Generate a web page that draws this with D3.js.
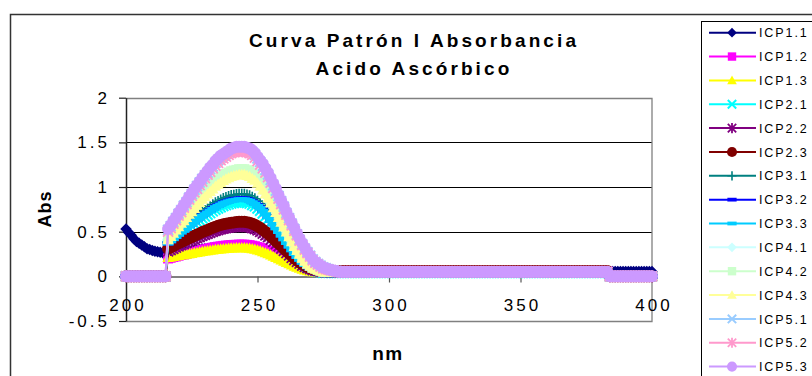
<!DOCTYPE html>
<html>
<head>
<meta charset="utf-8">
<script src="https://cdn.jsdelivr.net/npm/d3@7"></script>
<style>
  body { margin: 0; background: #fff; }
  svg { display: block; }
  text { font-family: "Liberation Sans", Arial, sans-serif; fill: #000; }
</style>
</head>
<body>
<svg id="chart" width="812" height="376"></svg>
<script>
// Scan grid: 200–400 nm in 1 nm steps
const wavelengths = d3.range(200, 401);

const yTickValues = [-0.5, 0, 0.5, 1, 1.5, 2];
const xTickValues = [200, 250, 300, 350, 400];

// Absorbance readings per standard (200–215 | 216–244 | 245–275 | 276–383 | 384–400)
const icp11 = [
  0.53,0.49,0.46,0.42,0.39,0.37,0.35,0.33,0.31,0.30,0.29,0.28,0.275,0.27,0.265,0.26,
  0.25,0.255,0.259,0.264,0.268,0.273,0.276,0.281,0.285,0.289,0.293,0.298,0.301,0.306,0.309,0.313,0.317,0.32,0.324,0.327,0.329,0.332,0.334,0.336,0.337,0.338,0.339,0.34,0.34,
  0.34,0.337,0.334,0.329,0.323,0.314,0.306,0.294,0.283,0.272,0.257,0.243,0.229,0.215,0.20,0.186,0.172,0.158,0.143,0.129,0.118,0.106,0.095,0.086,0.078,0.072,0.066,0.064,0.061,0.058,0.055,
  0.055,0.055,0.055,0.055,0.055,0.055,0.055,0.055,0.055,0.055,0.055,0.055,
  0.055,0.055,0.055,0.055,0.055,0.055,0.055,0.055,0.055,0.055,0.055,0.055,
  0.055,0.055,0.055,0.055,0.055,0.055,0.055,0.055,0.055,0.055,0.055,0.055,
  0.055,0.055,0.055,0.055,0.055,0.055,0.055,0.055,0.055,0.055,0.055,0.055,
  0.055,0.055,0.055,0.055,0.055,0.055,0.055,0.055,0.055,0.055,0.055,0.055,
  0.055,0.055,0.055,0.055,0.055,0.055,0.055,0.055,0.055,0.055,0.055,0.055,
  0.055,0.055,0.055,0.055,0.055,0.055,0.055,0.055,0.055,0.055,0.055,0.055,
  0.055,0.055,0.055,0.055,0.055,0.055,0.055,0.055,0.055,0.055,0.055,0.055,
  0.055,0.055,0.055,0.055,0.055,0.055,0.055,0.055,0.055,0.055,0.055,0.055,
  0.055,0.055,0.055,0.055,0.055,0.055,0.055,0.055,0.055,0.055,0.055,0.055,0.055,0.055,0.055,0.055,0.055
];
const icp12 = [
  0,0,0,0,0,0,0,0,0,0,0,0,0,0,0,0,
  0.20,0.208,0.216,0.223,0.231,0.239,0.245,0.253,0.26,0.267,0.274,0.282,0.288,0.296,0.302,0.309,0.315,0.321,0.327,0.332,0.336,0.341,0.344,0.347,0.35,0.352,0.353,0.355,0.355,
  0.355,0.352,0.349,0.343,0.337,0.328,0.32,0.308,0.296,0.284,0.269,0.255,0.24,0.225,0.21,0.196,0.181,0.166,0.151,0.137,0.125,0.113,0.101,0.092,0.084,0.078,0.072,0.069,0.066,0.063,0.06,
  0.06,0.06,0.06,0.06,0.06,0.06,0.06,0.06,0.06,0.06,0.06,0.06,
  0.06,0.06,0.06,0.06,0.06,0.06,0.06,0.06,0.06,0.06,0.06,0.06,
  0.06,0.06,0.06,0.06,0.06,0.06,0.06,0.06,0.06,0.06,0.06,0.06,
  0.06,0.06,0.06,0.06,0.06,0.06,0.06,0.06,0.06,0.06,0.06,0.06,
  0.06,0.06,0.06,0.06,0.06,0.06,0.06,0.06,0.06,0.06,0.06,0.06,
  0.06,0.06,0.06,0.06,0.06,0.06,0.06,0.06,0.06,0.06,0.06,0.06,
  0.06,0.06,0.06,0.06,0.06,0.06,0.06,0.06,0.06,0.06,0.06,0.06,
  0.06,0.06,0.06,0.06,0.06,0.06,0.06,0.06,0.06,0.06,0.06,0.06,
  0.06,0.06,0.06,0.06,0.06,0.06,0.06,0.06,0.06,0.06,0.06,0.06,
  0,0,0,0,0,0,0,0,0,0,0,0,0,0,0,0,0
];
const icp13 = [
  0,0,0,0,0,0,0,0,0,0,0,0,0,0,0,0,
  0.21,0.216,0.221,0.227,0.232,0.238,0.242,0.247,0.253,0.257,0.263,0.268,0.273,0.278,0.283,0.287,0.291,0.296,0.30,0.304,0.307,0.31,0.312,0.315,0.317,0.318,0.319,0.32,0.32,
  0.32,0.317,0.314,0.309,0.303,0.295,0.286,0.275,0.264,0.253,0.239,0.225,0.211,0.197,0.183,0.169,0.155,0.141,0.127,0.113,0.102,0.09,0.079,0.071,0.062,0.057,0.051,0.048,0.046,0.043,0.04,
  0.04,0.04,0.04,0.04,0.04,0.04,0.04,0.04,0.04,0.04,0.04,0.04,
  0.04,0.04,0.04,0.04,0.04,0.04,0.04,0.04,0.04,0.04,0.04,0.04,
  0.04,0.04,0.04,0.04,0.04,0.04,0.04,0.04,0.04,0.04,0.04,0.04,
  0.04,0.04,0.04,0.04,0.04,0.04,0.04,0.04,0.04,0.04,0.04,0.04,
  0.04,0.04,0.04,0.04,0.04,0.04,0.04,0.04,0.04,0.04,0.04,0.04,
  0.04,0.04,0.04,0.04,0.04,0.04,0.04,0.04,0.04,0.04,0.04,0.04,
  0.04,0.04,0.04,0.04,0.04,0.04,0.04,0.04,0.04,0.04,0.04,0.04,
  0.04,0.04,0.04,0.04,0.04,0.04,0.04,0.04,0.04,0.04,0.04,0.04,
  0.04,0.04,0.04,0.04,0.04,0.04,0.04,0.04,0.04,0.04,0.04,0.04,
  0,0,0,0,0,0,0,0,0,0,0,0,0,0,0,0,0
];
const icp21 = [
  0,0,0,0,0,0,0,0,0,0,0,0,0,0,0,0,
  0.36,0.384,0.407,0.431,0.454,0.478,0.496,0.52,0.543,0.562,0.586,0.609,0.628,0.651,0.67,0.689,0.708,0.727,0.745,0.76,0.774,0.788,0.797,0.807,0.816,0.821,0.825,0.83,0.83,
  0.83,0.822,0.814,0.798,0.783,0.759,0.735,0.704,0.672,0.64,0.601,0.561,0.522,0.482,0.443,0.403,0.364,0.324,0.285,0.245,0.214,0.182,0.151,0.127,0.103,0.087,0.072,0.064,0.056,0.048,0.04,
  0.04,0.04,0.04,0.04,0.04,0.04,0.04,0.04,0.04,0.04,0.04,0.04,
  0.04,0.04,0.04,0.04,0.04,0.04,0.04,0.04,0.04,0.04,0.04,0.04,
  0.04,0.04,0.04,0.04,0.04,0.04,0.04,0.04,0.04,0.04,0.04,0.04,
  0.04,0.04,0.04,0.04,0.04,0.04,0.04,0.04,0.04,0.04,0.04,0.04,
  0.04,0.04,0.04,0.04,0.04,0.04,0.04,0.04,0.04,0.04,0.04,0.04,
  0.04,0.04,0.04,0.04,0.04,0.04,0.04,0.04,0.04,0.04,0.04,0.04,
  0.04,0.04,0.04,0.04,0.04,0.04,0.04,0.04,0.04,0.04,0.04,0.04,
  0.04,0.04,0.04,0.04,0.04,0.04,0.04,0.04,0.04,0.04,0.04,0.04,
  0.04,0.04,0.04,0.04,0.04,0.04,0.04,0.04,0.04,0.04,0.04,0.04,
  0,0,0,0,0,0,0,0,0,0,0,0,0,0,0,0,0
];
const icp22 = [
  0,0,0,0,0,0,0,0,0,0,0,0,0,0,0,0,
  0.28,0.294,0.308,0.322,0.336,0.35,0.361,0.375,0.389,0.40,0.414,0.428,0.44,0.454,0.465,0.476,0.487,0.498,0.51,0.518,0.526,0.535,0.54,0.546,0.552,0.554,0.557,0.56,0.56,
  0.56,0.555,0.55,0.54,0.529,0.514,0.499,0.478,0.458,0.438,0.412,0.387,0.361,0.336,0.31,0.285,0.259,0.234,0.208,0.183,0.162,0.142,0.121,0.106,0.091,0.081,0.07,0.065,0.06,0.055,0.05,
  0.05,0.05,0.05,0.05,0.05,0.05,0.05,0.05,0.05,0.05,0.05,0.05,
  0.05,0.05,0.05,0.05,0.05,0.05,0.05,0.05,0.05,0.05,0.05,0.05,
  0.05,0.05,0.05,0.05,0.05,0.05,0.05,0.05,0.05,0.05,0.05,0.05,
  0.05,0.05,0.05,0.05,0.05,0.05,0.05,0.05,0.05,0.05,0.05,0.05,
  0.05,0.05,0.05,0.05,0.05,0.05,0.05,0.05,0.05,0.05,0.05,0.05,
  0.05,0.05,0.05,0.05,0.05,0.05,0.05,0.05,0.05,0.05,0.05,0.05,
  0.05,0.05,0.05,0.05,0.05,0.05,0.05,0.05,0.05,0.05,0.05,0.05,
  0.05,0.05,0.05,0.05,0.05,0.05,0.05,0.05,0.05,0.05,0.05,0.05,
  0.05,0.05,0.05,0.05,0.05,0.05,0.05,0.05,0.05,0.05,0.05,0.05,
  0,0,0,0,0,0,0,0,0,0,0,0,0,0,0,0,0
];
const icp23 = [
  0,0,0,0,0,0,0,0,0,0,0,0,0,0,0,0,
  0.31,0.325,0.34,0.355,0.37,0.385,0.397,0.412,0.427,0.439,0.454,0.469,0.481,0.496,0.508,0.52,0.532,0.544,0.556,0.565,0.574,0.583,0.589,0.595,0.601,0.604,0.607,0.61,0.61,
  0.61,0.605,0.599,0.588,0.577,0.561,0.544,0.522,0.50,0.478,0.451,0.423,0.396,0.368,0.341,0.313,0.286,0.258,0.231,0.203,0.181,0.159,0.137,0.121,0.104,0.093,0.082,0.077,0.071,0.066,0.06,
  0.06,0.06,0.06,0.06,0.06,0.06,0.06,0.06,0.06,0.06,0.06,0.06,
  0.06,0.06,0.06,0.06,0.06,0.06,0.06,0.06,0.06,0.06,0.06,0.06,
  0.06,0.06,0.06,0.06,0.06,0.06,0.06,0.06,0.06,0.06,0.06,0.06,
  0.06,0.06,0.06,0.06,0.06,0.06,0.06,0.06,0.06,0.06,0.06,0.06,
  0.06,0.06,0.06,0.06,0.06,0.06,0.06,0.06,0.06,0.06,0.06,0.06,
  0.06,0.06,0.06,0.06,0.06,0.06,0.06,0.06,0.06,0.06,0.06,0.06,
  0.06,0.06,0.06,0.06,0.06,0.06,0.06,0.06,0.06,0.06,0.06,0.06,
  0.06,0.06,0.06,0.06,0.06,0.06,0.06,0.06,0.06,0.06,0.06,0.06,
  0.06,0.06,0.06,0.06,0.06,0.06,0.06,0.06,0.06,0.06,0.06,0.06,
  0,0,0,0,0,0,0,0,0,0,0,0,0,0,0,0,0
];
const icp31 = [
  0,0,0,0,0,0,0,0,0,0,0,0,0,0,0,0,
  0.38,0.407,0.434,0.461,0.488,0.515,0.537,0.564,0.591,0.612,0.639,0.666,0.688,0.715,0.736,0.758,0.78,0.801,0.823,0.839,0.855,0.871,0.882,0.893,0.904,0.909,0.915,0.92,0.92,
  0.92,0.911,0.903,0.885,0.868,0.842,0.816,0.781,0.746,0.711,0.668,0.624,0.581,0.537,0.494,0.45,0.407,0.363,0.32,0.276,0.241,0.207,0.172,0.146,0.12,0.102,0.085,0.076,0.067,0.059,0.05,
  0.05,0.05,0.05,0.05,0.05,0.05,0.05,0.05,0.05,0.05,0.05,0.05,
  0.05,0.05,0.05,0.05,0.05,0.05,0.05,0.05,0.05,0.05,0.05,0.05,
  0.05,0.05,0.05,0.05,0.05,0.05,0.05,0.05,0.05,0.05,0.05,0.05,
  0.05,0.05,0.05,0.05,0.05,0.05,0.05,0.05,0.05,0.05,0.05,0.05,
  0.05,0.05,0.05,0.05,0.05,0.05,0.05,0.05,0.05,0.05,0.05,0.05,
  0.05,0.05,0.05,0.05,0.05,0.05,0.05,0.05,0.05,0.05,0.05,0.05,
  0.05,0.05,0.05,0.05,0.05,0.05,0.05,0.05,0.05,0.05,0.05,0.05,
  0.05,0.05,0.05,0.05,0.05,0.05,0.05,0.05,0.05,0.05,0.05,0.05,
  0.05,0.05,0.05,0.05,0.05,0.05,0.05,0.05,0.05,0.05,0.05,0.05,
  0,0,0,0,0,0,0,0,0,0,0,0,0,0,0,0,0
];
const icp32 = [
  0,0,0,0,0,0,0,0,0,0,0,0,0,0,0,0,
  0.37,0.395,0.42,0.445,0.47,0.495,0.515,0.54,0.565,0.585,0.61,0.635,0.655,0.68,0.70,0.72,0.74,0.76,0.78,0.795,0.81,0.825,0.835,0.845,0.855,0.86,0.865,0.87,0.87,
  0.87,0.862,0.853,0.837,0.82,0.795,0.77,0.737,0.704,0.671,0.629,0.588,0.546,0.505,0.463,0.422,0.38,0.339,0.297,0.256,0.223,0.189,0.156,0.131,0.106,0.09,0.073,0.065,0.057,0.048,0.04,
  0.04,0.04,0.04,0.04,0.04,0.04,0.04,0.04,0.04,0.04,0.04,0.04,
  0.04,0.04,0.04,0.04,0.04,0.04,0.04,0.04,0.04,0.04,0.04,0.04,
  0.04,0.04,0.04,0.04,0.04,0.04,0.04,0.04,0.04,0.04,0.04,0.04,
  0.04,0.04,0.04,0.04,0.04,0.04,0.04,0.04,0.04,0.04,0.04,0.04,
  0.04,0.04,0.04,0.04,0.04,0.04,0.04,0.04,0.04,0.04,0.04,0.04,
  0.04,0.04,0.04,0.04,0.04,0.04,0.04,0.04,0.04,0.04,0.04,0.04,
  0.04,0.04,0.04,0.04,0.04,0.04,0.04,0.04,0.04,0.04,0.04,0.04,
  0.04,0.04,0.04,0.04,0.04,0.04,0.04,0.04,0.04,0.04,0.04,0.04,
  0.04,0.04,0.04,0.04,0.04,0.04,0.04,0.04,0.04,0.04,0.04,0.04,
  0,0,0,0,0,0,0,0,0,0,0,0,0,0,0,0,0
];
const icp33 = [
  0,0,0,0,0,0,0,0,0,0,0,0,0,0,0,0,
  0.37,0.395,0.419,0.444,0.468,0.493,0.512,0.537,0.561,0.581,0.605,0.63,0.649,0.674,0.693,0.713,0.733,0.752,0.772,0.787,0.801,0.816,0.826,0.836,0.845,0.85,0.855,0.86,0.86,
  0.86,0.852,0.844,0.827,0.811,0.786,0.762,0.729,0.696,0.663,0.622,0.581,0.54,0.499,0.458,0.417,0.376,0.335,0.294,0.253,0.22,0.188,0.155,0.13,0.106,0.089,0.073,0.065,0.056,0.048,0.04,
  0.04,0.04,0.04,0.04,0.04,0.04,0.04,0.04,0.04,0.04,0.04,0.04,
  0.04,0.04,0.04,0.04,0.04,0.04,0.04,0.04,0.04,0.04,0.04,0.04,
  0.04,0.04,0.04,0.04,0.04,0.04,0.04,0.04,0.04,0.04,0.04,0.04,
  0.04,0.04,0.04,0.04,0.04,0.04,0.04,0.04,0.04,0.04,0.04,0.04,
  0.04,0.04,0.04,0.04,0.04,0.04,0.04,0.04,0.04,0.04,0.04,0.04,
  0.04,0.04,0.04,0.04,0.04,0.04,0.04,0.04,0.04,0.04,0.04,0.04,
  0.04,0.04,0.04,0.04,0.04,0.04,0.04,0.04,0.04,0.04,0.04,0.04,
  0.04,0.04,0.04,0.04,0.04,0.04,0.04,0.04,0.04,0.04,0.04,0.04,
  0.04,0.04,0.04,0.04,0.04,0.04,0.04,0.04,0.04,0.04,0.04,0.04,
  0,0,0,0,0,0,0,0,0,0,0,0,0,0,0,0,0
];
const icp41 = [
  0,0,0,0,0,0,0,0,0,0,0,0,0,0,0,0,
  0.42,0.458,0.495,0.533,0.57,0.608,0.638,0.675,0.713,0.743,0.78,0.818,0.848,0.885,0.915,0.945,0.975,1.005,1.035,1.058,1.08,1.103,1.118,1.133,1.148,1.155,1.163,1.17,1.17,
  1.17,1.159,1.148,1.125,1.103,1.069,1.036,0.991,0.946,0.901,0.845,0.789,0.733,0.677,0.621,0.565,0.509,0.453,0.397,0.341,0.296,0.252,0.207,0.173,0.14,0.117,0.095,0.084,0.072,0.061,0.05,
  0.05,0.05,0.05,0.05,0.05,0.05,0.05,0.05,0.05,0.05,0.05,0.05,
  0.05,0.05,0.05,0.05,0.05,0.05,0.05,0.05,0.05,0.05,0.05,0.05,
  0.05,0.05,0.05,0.05,0.05,0.05,0.05,0.05,0.05,0.05,0.05,0.05,
  0.05,0.05,0.05,0.05,0.05,0.05,0.05,0.05,0.05,0.05,0.05,0.05,
  0.05,0.05,0.05,0.05,0.05,0.05,0.05,0.05,0.05,0.05,0.05,0.05,
  0.05,0.05,0.05,0.05,0.05,0.05,0.05,0.05,0.05,0.05,0.05,0.05,
  0.05,0.05,0.05,0.05,0.05,0.05,0.05,0.05,0.05,0.05,0.05,0.05,
  0.05,0.05,0.05,0.05,0.05,0.05,0.05,0.05,0.05,0.05,0.05,0.05,
  0.05,0.05,0.05,0.05,0.05,0.05,0.05,0.05,0.05,0.05,0.05,0.05,
  0,0,0,0,0,0,0,0,0,0,0,0,0,0,0,0,0
];
const icp42 = [
  0,0,0,0,0,0,0,0,0,0,0,0,0,0,0,0,
  0.43,0.469,0.507,0.546,0.584,0.623,0.653,0.692,0.73,0.761,0.80,0.838,0.869,0.907,0.938,0.969,1.0,1.031,1.061,1.085,1.108,1.131,1.146,1.162,1.177,1.185,1.192,1.20,1.20,
  1.20,1.189,1.177,1.154,1.131,1.097,1.062,1.016,0.97,0.924,0.867,0.809,0.752,0.694,0.637,0.579,0.522,0.464,0.407,0.349,0.303,0.257,0.211,0.177,0.142,0.119,0.096,0.085,0.073,0.062,0.05,
  0.05,0.05,0.05,0.05,0.05,0.05,0.05,0.05,0.05,0.05,0.05,0.05,
  0.05,0.05,0.05,0.05,0.05,0.05,0.05,0.05,0.05,0.05,0.05,0.05,
  0.05,0.05,0.05,0.05,0.05,0.05,0.05,0.05,0.05,0.05,0.05,0.05,
  0.05,0.05,0.05,0.05,0.05,0.05,0.05,0.05,0.05,0.05,0.05,0.05,
  0.05,0.05,0.05,0.05,0.05,0.05,0.05,0.05,0.05,0.05,0.05,0.05,
  0.05,0.05,0.05,0.05,0.05,0.05,0.05,0.05,0.05,0.05,0.05,0.05,
  0.05,0.05,0.05,0.05,0.05,0.05,0.05,0.05,0.05,0.05,0.05,0.05,
  0.05,0.05,0.05,0.05,0.05,0.05,0.05,0.05,0.05,0.05,0.05,0.05,
  0.05,0.05,0.05,0.05,0.05,0.05,0.05,0.05,0.05,0.05,0.05,0.05,
  0,0,0,0,0,0,0,0,0,0,0,0,0,0,0,0,0
];
const icp43 = [
  0,0,0,0,0,0,0,0,0,0,0,0,0,0,0,0,
  0.41,0.447,0.483,0.52,0.556,0.593,0.622,0.658,0.695,0.724,0.76,0.797,0.826,0.863,0.892,0.921,0.95,0.979,1.009,1.031,1.052,1.074,1.089,1.104,1.118,1.125,1.133,1.14,1.14,
  1.14,1.129,1.118,1.096,1.075,1.042,1.009,0.966,0.922,0.878,0.824,0.769,0.715,0.66,0.606,0.551,0.497,0.442,0.388,0.333,0.29,0.246,0.203,0.17,0.137,0.115,0.094,0.083,0.072,0.061,0.05,
  0.05,0.05,0.05,0.05,0.05,0.05,0.05,0.05,0.05,0.05,0.05,0.05,
  0.05,0.05,0.05,0.05,0.05,0.05,0.05,0.05,0.05,0.05,0.05,0.05,
  0.05,0.05,0.05,0.05,0.05,0.05,0.05,0.05,0.05,0.05,0.05,0.05,
  0.05,0.05,0.05,0.05,0.05,0.05,0.05,0.05,0.05,0.05,0.05,0.05,
  0.05,0.05,0.05,0.05,0.05,0.05,0.05,0.05,0.05,0.05,0.05,0.05,
  0.05,0.05,0.05,0.05,0.05,0.05,0.05,0.05,0.05,0.05,0.05,0.05,
  0.05,0.05,0.05,0.05,0.05,0.05,0.05,0.05,0.05,0.05,0.05,0.05,
  0.05,0.05,0.05,0.05,0.05,0.05,0.05,0.05,0.05,0.05,0.05,0.05,
  0.05,0.05,0.05,0.05,0.05,0.05,0.05,0.05,0.05,0.05,0.05,0.05,
  0,0,0,0,0,0,0,0,0,0,0,0,0,0,0,0,0
];
const icp51 = [
  0,0,0,0,0,0,0,0,0,0,0,0,0,0,0,0,
  0.52,0.56,0.61,0.65,0.70,0.74,0.79,0.83,0.88,0.92,0.97,1.01,1.05,1.09,1.13,1.16,1.20,1.23,1.27,1.30,1.33,1.35,1.37,1.39,1.41,1.42,1.43,1.43,1.43,
  1.43,1.42,1.41,1.39,1.36,1.32,1.28,1.24,1.19,1.14,1.08,1.02,0.96,0.90,0.84,0.78,0.71,0.65,0.59,0.53,0.47,0.41,0.36,0.31,0.27,0.23,0.19,0.16,0.14,0.12,0.10,
  0.09,0.08,0.07,0.065,0.06,0.05,0.05,0.05,0.05,0.05,0.05,0.05,
  0.05,0.05,0.05,0.05,0.05,0.05,0.05,0.05,0.05,0.05,0.05,0.05,
  0.05,0.05,0.05,0.05,0.05,0.05,0.05,0.05,0.05,0.05,0.05,0.05,
  0.05,0.05,0.05,0.05,0.05,0.05,0.05,0.05,0.05,0.05,0.05,0.05,
  0.05,0.05,0.05,0.05,0.05,0.05,0.05,0.05,0.05,0.05,0.05,0.05,
  0.05,0.05,0.05,0.05,0.05,0.05,0.05,0.05,0.05,0.05,0.05,0.05,
  0.05,0.05,0.05,0.05,0.05,0.05,0.05,0.05,0.05,0.05,0.05,0.05,
  0.05,0.05,0.05,0.05,0.05,0.05,0.05,0.05,0.05,0.05,0.05,0.05,
  0.05,0.05,0.05,0.05,0.05,0.05,0.05,0.05,0.05,0.05,0.05,0.05,
  0,0,0,0,0,0,0,0,0,0,0,0,0,0,0,0,0
];
const icp52 = [
  0,0,0,0,0,0,0,0,0,0,0,0,0,0,0,0,
  0.50,0.54,0.59,0.63,0.68,0.72,0.77,0.81,0.86,0.90,0.94,0.98,1.02,1.06,1.10,1.14,1.17,1.21,1.24,1.27,1.30,1.32,1.34,1.36,1.38,1.39,1.40,1.40,1.40,
  1.40,1.39,1.38,1.36,1.33,1.29,1.25,1.21,1.16,1.11,1.05,0.99,0.93,0.87,0.81,0.75,0.69,0.63,0.57,0.51,0.46,0.40,0.35,0.30,0.26,0.22,0.18,0.15,0.13,0.11,0.09,
  0.08,0.075,0.07,0.06,0.055,0.05,0.05,0.05,0.05,0.05,0.05,0.05,
  0.05,0.05,0.05,0.05,0.05,0.05,0.05,0.05,0.05,0.05,0.05,0.05,
  0.05,0.05,0.05,0.05,0.05,0.05,0.05,0.05,0.05,0.05,0.05,0.05,
  0.05,0.05,0.05,0.05,0.05,0.05,0.05,0.05,0.05,0.05,0.05,0.05,
  0.05,0.05,0.05,0.05,0.05,0.05,0.05,0.05,0.05,0.05,0.05,0.05,
  0.05,0.05,0.05,0.05,0.05,0.05,0.05,0.05,0.05,0.05,0.05,0.05,
  0.05,0.05,0.05,0.05,0.05,0.05,0.05,0.05,0.05,0.05,0.05,0.05,
  0.05,0.05,0.05,0.05,0.05,0.05,0.05,0.05,0.05,0.05,0.05,0.05,
  0.05,0.05,0.05,0.05,0.05,0.05,0.05,0.05,0.05,0.05,0.05,0.05,
  0,0,0,0,0,0,0,0,0,0,0,0,0,0,0,0,0
];
const icp53 = [
  0,0,0,0,0,0,0,0,0,0,0,0,0,0,0,0,
  0.53,0.57,0.62,0.66,0.71,0.75,0.80,0.84,0.89,0.93,0.98,1.02,1.06,1.10,1.14,1.18,1.22,1.25,1.29,1.32,1.35,1.37,1.39,1.41,1.43,1.44,1.45,1.45,1.45,
  1.45,1.44,1.43,1.41,1.38,1.34,1.30,1.26,1.21,1.16,1.10,1.04,0.98,0.91,0.85,0.79,0.72,0.66,0.60,0.54,0.48,0.42,0.37,0.32,0.27,0.23,0.19,0.16,0.14,0.12,0.10,
  0.09,0.08,0.07,0.065,0.06,0.05,0.05,0.05,0.05,0.05,0.05,0.05,
  0.05,0.05,0.05,0.05,0.05,0.05,0.05,0.05,0.05,0.05,0.05,0.05,
  0.05,0.05,0.05,0.05,0.05,0.05,0.05,0.05,0.05,0.05,0.05,0.05,
  0.05,0.05,0.05,0.05,0.05,0.05,0.05,0.05,0.05,0.05,0.05,0.05,
  0.05,0.05,0.05,0.05,0.05,0.05,0.05,0.05,0.05,0.05,0.05,0.05,
  0.05,0.05,0.05,0.05,0.05,0.05,0.05,0.05,0.05,0.05,0.05,0.05,
  0.05,0.05,0.05,0.05,0.05,0.05,0.05,0.05,0.05,0.05,0.05,0.05,
  0.05,0.05,0.05,0.05,0.05,0.05,0.05,0.05,0.05,0.05,0.05,0.05,
  0.05,0.05,0.05,0.05,0.05,0.05,0.05,0.05,0.05,0.05,0.05,0.05,
  0,0,0,0,0,0,0,0,0,0,0,0,0,0,0,0,0
];

const seriesNames = ["ICP1.1","ICP1.2","ICP1.3","ICP2.1","ICP2.2","ICP2.3","ICP3.1","ICP3.2","ICP3.3",
                     "ICP4.1","ICP4.2","ICP4.3","ICP5.1","ICP5.2","ICP5.3"];
const seriesValues = [icp11, icp12, icp13, icp21, icp22, icp23, icp31, icp32, icp33,
                      icp41, icp42, icp43, icp51, icp52, icp53];

// Line colour and marker style for each standard
const seriesStyle = [
  { color: "#000080", marker: "diamond" },
  { color: "#FF00FF", marker: "square" },
  { color: "#FFFF00", marker: "triangle" },
  { color: "#00FFFF", marker: "times" },
  { color: "#800080", marker: "star" },
  { color: "#800000", marker: "circle" },
  { color: "#008080", marker: "plus" },
  { color: "#0000FF", marker: "dash" },
  { color: "#00CCFF", marker: "dash" },
  { color: "#CCFFFF", marker: "diamond" },
  { color: "#CCFFCC", marker: "square" },
  { color: "#FFFF99", marker: "triangle" },
  { color: "#99CCFF", marker: "times" },
  { color: "#FF99CC", marker: "star" },
  { color: "#CC99FF", marker: "circle" }
];

// Marker outlines (unit size), centred on the data point
const markers = {
  diamond:  { filled: true,  d: "M0,-1.15L1.15,0L0,1.15L-1.15,0Z" },
  square:   { filled: true,  d: "M-1,-1H1V1H-1Z" },
  triangle: { filled: true,  d: "M0,-1.15L1.15,0.9L-1.15,0.9Z" },
  circle:   { filled: true,  d: "M1.2,0A1.2,1.2 0 1,1 -1.2,0A1.2,1.2 0 1,1 1.2,0Z" },
  dash:     { filled: true,  d: "M-1.1,-0.45H1.1V0.45H-1.1Z" },
  times:    { filled: false, d: "M-1,-1L1,1M1,-1L-1,1", width: 2 },
  star:     { filled: false, d: "M-1,-1L1,1M1,-1L-1,1M0,-1.2V1.2", width: 1.8 },
  plus:     { filled: false, d: "M-1.1,0H1.1M0,-1.1V1.1", width: 1.6 }
};
const plotMarkerScale = 5;
const legendMarkerScale = 4.2;

function drawMarker(sel, style, s) {
  const m = markers[style.marker];
  sel.attr("d", m.d)
    .attr("fill", m.filled ? style.color : "none")
    .attr("stroke", m.filled ? "none" : style.color)
    .attr("stroke-width", m.filled ? null : m.width / s)
    .attr("vector-effect", null);
}

const svg = d3.select("#chart");
const x = d3.scaleLinear().domain([200, 400]).range([126, 652]);
const y = d3.scaleLinear().domain([-0.5, 2]).range([321, 97.7]);

// Chart frame
svg.append("rect")
  .attr("x", 10.5).attr("y", 14.5).attr("width", 900).attr("height", 500)
  .attr("fill", "#fff").attr("stroke", "#333").attr("stroke-width", 1.5);

// Horizontal gridlines
svg.append("g").selectAll("line")
  .data([0.5, 1, 1.5])
  .join("line")
  .attr("x1", x(200)).attr("x2", x(400))
  .attr("y1", d => Math.round(y(d)) + 0.5).attr("y2", d => Math.round(y(d)) + 0.5)
  .attr("stroke", "#000").attr("stroke-width", 1);

// Plot area border (top, right, bottom)
svg.append("path")
  .attr("d", `M${x(200)},${Math.round(y(2)) + 0.5}H${x(400)}V${Math.round(y(-0.5)) + 0.5}H${x(200)}`)
  .attr("fill", "none").attr("stroke", "#808080").attr("stroke-width", 1.3);

// Y axis
const yAxis = svg.append("g")
  .attr("transform", `translate(${x(200)},0)`)
  .call(d3.axisLeft(y).tickValues(yTickValues).tickSize(7).tickSizeOuter(0).tickPadding(9).tickFormat(d => String(d)));
yAxis.select(".domain").attr("stroke", "#222").attr("stroke-width", 1.5);
yAxis.selectAll(".tick line").attr("stroke", "#222").attr("stroke-width", 1.2);
yAxis.selectAll(".tick text")
  .attr("font-size", 17).attr("letter-spacing", 3).attr("fill", "#000")
  .style("font-family", "'Liberation Sans', Arial, sans-serif");

// X axis along zero absorbance
const xAxis = svg.append("g")
  .attr("transform", `translate(0,${Math.round(y(0)) + 0.5})`)
  .call(d3.axisBottom(x).tickValues(xTickValues).tickSize(6).tickSizeOuter(0).tickPadding(16).tickFormat(d => String(d)));
xAxis.select(".domain").attr("stroke", "#000").attr("stroke-width", 1);
xAxis.selectAll(".tick line").attr("stroke", "#555").attr("stroke-width", 1.2);
xAxis.selectAll(".tick text")
  .attr("font-size", 17).attr("letter-spacing", 3).attr("dx", 1.5).attr("fill", "#000")
  .style("font-family", "'Liberation Sans', Arial, sans-serif");

// Titles
svg.append("text").attr("x", 414).attr("y", 47).attr("text-anchor", "middle")
  .attr("font-size", 19).attr("font-weight", "bold").attr("letter-spacing", 3.1)
  .text("Curva Patrón I Absorbancia");
svg.append("text").attr("x", 414).attr("y", 75).attr("text-anchor", "middle")
  .attr("font-size", 19).attr("font-weight", "bold").attr("letter-spacing", 3.1)
  .text("Acido Ascórbico");
svg.append("text").attr("x", 388).attr("y", 360).attr("text-anchor", "middle")
  .attr("font-size", 19).attr("font-weight", "bold").attr("letter-spacing", 1.5)
  .text("nm");
svg.append("text").attr("transform", "translate(50.5,209) rotate(-90)").attr("text-anchor", "middle")
  .attr("font-size", 18).attr("font-weight", "bold").attr("letter-spacing", 1)
  .text("Abs");

// Spectra: each standard drawn as a line with a marker at every reading
const line = d3.line()
  .x((d, i) => x(wavelengths[i]))
  .y(d => y(d));

const plot = svg.append("g");
seriesValues.forEach((vals, k) => {
  const style = seriesStyle[k];
  const g = plot.append("g");
  g.append("path").attr("d", line(vals))
    .attr("fill", "none").attr("stroke", style.color).attr("stroke-width", 2);
  g.selectAll("path.mk")
    .data(vals)
    .join("path")
    .attr("class", "mk")
    .attr("transform", (d, i) => `translate(${x(wavelengths[i])},${y(d)}) scale(${plotMarkerScale})`)
    .call(drawMarker, style, plotMarkerScale);
});

// Legend
const legend = svg.append("g");
legend.append("rect")
  .attr("x", 701.5).attr("y", 21.5).attr("width", 200).attr("height", 400)
  .attr("fill", "#fff").attr("stroke", "#000").attr("stroke-width", 1);
const rows = legend.selectAll("g.row")
  .data(seriesNames)
  .join("g")
  .attr("class", "row")
  .attr("transform", (d, i) => `translate(0,${32.7 + i * 23.85})`);
rows.append("line")
  .attr("x1", 709).attr("x2", 756).attr("y1", 0).attr("y2", 0)
  .attr("stroke", (d, i) => seriesStyle[i].color).attr("stroke-width", 2);
rows.append("path")
  .attr("transform", `translate(732,0) scale(${legendMarkerScale})`)
  .each(function (d, i) { d3.select(this).call(drawMarker, seriesStyle[i], legendMarkerScale); });
rows.append("text")
  .attr("x", 759).attr("y", 4.6)
  .attr("font-size", 12.5).attr("letter-spacing", 1.9)
  .text(d => d);
</script>
</body>
</html>
